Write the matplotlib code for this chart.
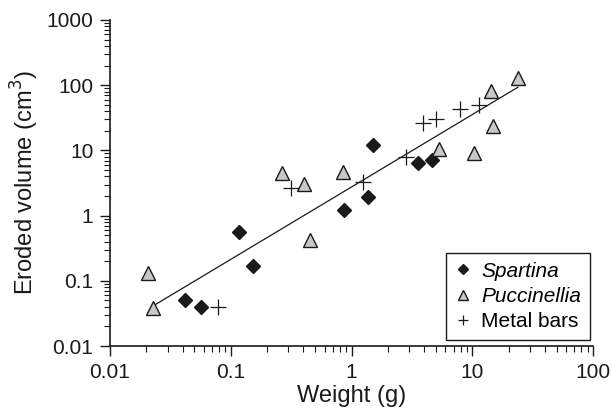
"""Eroded volume vs weight, log-log scatter with fitted power law."""

import matplotlib
matplotlib.use("Agg")
import matplotlib.pyplot as plt
import numpy as np
from matplotlib.ticker import LogLocator, NullFormatter, FixedFormatter, FixedLocator

plt.rcParams["font.family"] = ["Liberation Sans", "DejaVu Sans"]

# Spartina (filled diamonds)
spartina_w = [0.0418, 0.057, 0.117, 0.154, 0.871, 1.36, 1.52, 3.57, 4.64]
spartina_v = [0.0508, 0.040, 0.555, 0.171, 1.22, 1.91, 12.1, 6.34, 7.13]

# Puccinellia (grey triangles)
puccinellia_w = [0.0208, 0.0225, 0.264, 0.404, 0.45, 0.855, 5.31, 10.4, 14.8, 14.2, 24.0]
puccinellia_v = [0.13, 0.039, 4.46, 3.05, 0.43, 4.71, 10.5, 9.04, 23.7, 82.4, 128]

# Metal bars (plus signs)
metal_w = [0.079, 0.313, 1.25, 2.82, 3.88, 5.01, 7.93, 11.4]
metal_v = [0.040, 2.68, 3.31, 7.84, 26.6, 30.0, 42.7, 49.6]

# power-law fit  V = a * W^b, drawn over the weight range
fit_a = 2.75
fit_b = 1.11
fit_range = [0.0227, 23.9]

tick_vals = [0.01, 0.1, 1, 10, 100, 1000]
tick_labels = ["0.01", "0.1", "1", "10", "100", "1000"]

fig = plt.figure(figsize=(6.12, 4.12), dpi=100)
ax = fig.add_axes([0.1797, 0.160, 0.7893, 0.7915])

xs = np.array(fit_range)
ax.plot(xs, fit_a * xs ** fit_b, color="#1a1a1a", lw=0.9, zorder=1)

ax.plot(spartina_w, spartina_v, ls="none", marker="D", ms=7, mfc="#1a1a1a",
        mec="#1a1a1a", label="Spartina", zorder=3)
ax.plot(puccinellia_w, puccinellia_v, ls="none", marker="^", ms=9.5, mfc="#c8c8c8",
        mec="#1a1a1a", mew=1.0, label="Puccinellia", zorder=3)
ax.plot(metal_w, metal_v, ls="none", marker="+", ms=11, mec="#1a1a1a", mew=0.9,
        label="Metal bars", zorder=3)

ax.set_xscale("log")
ax.set_yscale("log")
ax.set_xlim(0.01, 100)
ax.set_ylim(0.01, 1000)

ax.xaxis.set_major_locator(FixedLocator(tick_vals[:5]))
ax.xaxis.set_major_formatter(FixedFormatter(tick_labels[:5]))
ax.yaxis.set_major_locator(FixedLocator(tick_vals))
ax.yaxis.set_major_formatter(FixedFormatter(tick_labels))
for axis in (ax.xaxis, ax.yaxis):
    axis.set_minor_locator(LogLocator(base=10, subs=np.arange(2, 10)))
    axis.set_minor_formatter(NullFormatter())

ax.tick_params(which="major", direction="out", length=7, width=1.0, labelsize=15,
               color="#1a1a1a", labelcolor="#1a1a1a", pad=5)
ax.tick_params(which="minor", direction="out", length=4, width=0.8, color="#1a1a1a")

for side in ("top", "right"):
    ax.spines[side].set_visible(False)
for side in ("left", "bottom"):
    ax.spines[side].set_linewidth(1.2)
    ax.spines[side].set_color("#1a1a1a")

ax.set_xlabel("Weight (g)", fontsize=17, color="#1a1a1a", labelpad=2)
ax.set_ylabel("Eroded volume (cm$^3$)", fontsize=17, color="#1a1a1a", labelpad=4)

leg = ax.legend(loc="lower right", bbox_to_anchor=(0.993, 0.02), borderaxespad=0,
                fontsize=15, markerscale=0.7, handlelength=0.8, handletextpad=0.5,
                borderpad=0.4, labelspacing=0.3, fancybox=False,
                edgecolor="#1a1a1a", framealpha=1)
leg.get_frame().set_linewidth(1.0)
for txt in leg.get_texts()[:2]:
    txt.set_fontstyle("italic")

fig.savefig("out.png", dpi=100)
